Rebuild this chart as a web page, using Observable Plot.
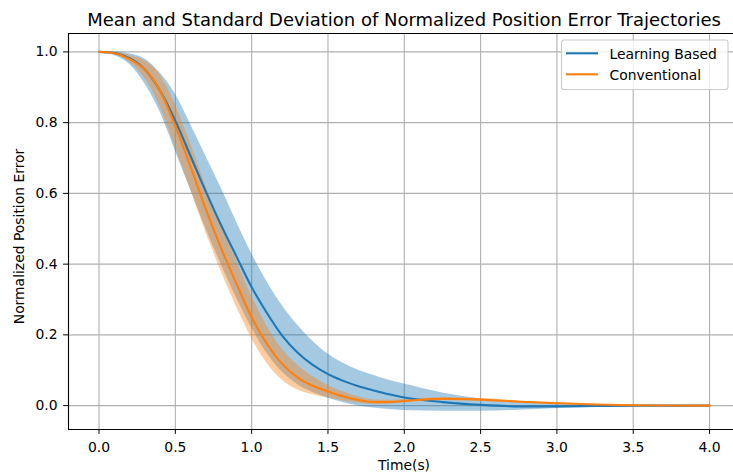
<!DOCTYPE html>
<html>
<head>
<meta charset="utf-8">
<script src="https://cdn.jsdelivr.net/npm/d3@7"></script>
<script src="https://cdn.jsdelivr.net/npm/@observablehq/plot@0.6"></script>
<style>
  html, body { margin: 0; padding: 0; background: white; }
  svg { display: block; }
</style>
</head>
<body>
<div id="chart"></div>
<script>
// ---- data ----
const titleText = "Mean and Standard Deviation of Normalized Position Error Trajectories";
const xLabel = "Time(s)";
const yLabel = "Normalized Position Error";
const seriesNames = ["Learning Based", "Conventional"];
const seriesColors = ["#1f77b4", "#ff7f0e"];

const xTicks = [0, 0.5, 1.0, 1.5, 2.0, 2.5, 3.0, 3.5, 4.0];
const yTicks = [0.0, 0.2, 0.4, 0.6, 0.8, 1.0];

const time = [0, 0.1, 0.2, 0.3, 0.4, 0.5, 0.6, 0.7, 0.8, 0.9, 1.0, 1.1, 1.2, 1.3, 1.4, 1.5, 1.6, 1.7, 1.8, 1.9, 2.0, 2.25, 2.5, 2.75, 3.0, 3.25, 3.5, 3.75, 4.0];

const learningMean = [1.0, 0.997, 0.982, 0.95, 0.89, 0.805, 0.705, 0.605, 0.51, 0.422, 0.335, 0.262, 0.198, 0.15, 0.115, 0.089, 0.07, 0.055, 0.043, 0.032, 0.023, 0.01, 0.002, -0.002, -0.002, -0.001, 0, 0, 0];
const learningLow  = [1.0, 0.99, 0.965, 0.91, 0.83, 0.72, 0.61, 0.50, 0.40, 0.305, 0.22, 0.148, 0.095, 0.06, 0.037, 0.021, 0.009, -0.001, -0.007, -0.011, -0.014, -0.016, -0.016, -0.013, -0.008, -0.004, -0.001, 0, 0];
const learningHigh = [1.0, 1.0, 0.995, 0.98, 0.94, 0.88, 0.795, 0.705, 0.615, 0.52, 0.43, 0.35, 0.283, 0.228, 0.182, 0.146, 0.12, 0.10, 0.085, 0.072, 0.061, 0.036, 0.019, 0.01, 0.005, 0.002, 0.001, 0, 0];

const convMean = [1.0, 0.996, 0.98, 0.95, 0.89, 0.79, 0.675, 0.555, 0.445, 0.345, 0.25, 0.175, 0.118, 0.08, 0.056, 0.04, 0.026, 0.016, 0.01, 0.01, 0.013, 0.019, 0.017, 0.011, 0.0065, 0.003, 0.001, 0.0003, 0];
const convLow  = [1.0, 0.993, 0.97, 0.925, 0.845, 0.73, 0.61, 0.49, 0.38, 0.28, 0.19, 0.12, 0.072, 0.045, 0.031, 0.022, 0.013, 0.007, 0.004, 0.005, 0.009, 0.016, 0.014, 0.009, 0.0045, 0.002, 0.0, 0.0003, 0];
const convHigh = [1.0, 0.999, 0.99, 0.975, 0.935, 0.85, 0.74, 0.62, 0.51, 0.41, 0.31, 0.225, 0.16, 0.115, 0.082, 0.057, 0.039, 0.025, 0.016, 0.015, 0.017, 0.022, 0.02, 0.013, 0.0085, 0.004, 0.002, 0.0003, 0];

const xDomain = [-0.2, 4.157];
const yDomain = [-0.0675, 1.052];

// ---- build table ----
const rows = time.map((t, i) => ({
  t,
  lm: learningMean[i], ll: learningLow[i], lh: learningHigh[i],
  cm: convMean[i], cl: convLow[i], ch: convHigh[i]
}));

const font = "DejaVu Sans, sans-serif";
const curve = "monotone-x";

const svg = Plot.plot({
  width: 733,
  height: 475,
  marginLeft: 68,
  marginRight: 0,
  marginTop: 33,
  marginBottom: 46,
  style: { fontFamily: font, fontSize: "13.9px", background: "white", color: "black" },
  x: { domain: xDomain },
  y: { domain: yDomain },
  marks: [
    Plot.gridX(xTicks, { stroke: "#b0b0b0", strokeOpacity: 1, strokeWidth: 1.1 }),
    Plot.gridY(yTicks, { stroke: "#b0b0b0", strokeOpacity: 1, strokeWidth: 1.1 }),
    Plot.areaY(rows, { x: "t", y1: "ll", y2: "lh", fill: seriesColors[0], fillOpacity: 0.4, curve }),
    Plot.areaY(rows, { x: "t", y1: "cl", y2: "ch", fill: seriesColors[1], fillOpacity: 0.4, curve }),
    Plot.lineY(rows, { x: "t", y: "lm", stroke: seriesColors[0], strokeWidth: 2.1, curve }),
    Plot.lineY(rows, { x: "t", y: "cm", stroke: seriesColors[1], strokeWidth: 2.1, curve }),
    Plot.ruleX([xDomain[0]], { stroke: "black", strokeWidth: 1.1 }),
    Plot.ruleY([yDomain[0], yDomain[1]], { stroke: "black", strokeWidth: 1.1 }),
    Plot.axisX(xTicks, { tickFormat: d3.format(".1f"), tickSize: 4.9, tickPadding: 8, label: null, fontSize: 13.9 }),
    Plot.axisY(yTicks, { tickFormat: d3.format(".1f"), tickSize: 4.9, tickPadding: 6, label: null, fontSize: 13.9 }),
    Plot.text([titleText], { frameAnchor: "top", dx: 3, dy: -8, lineAnchor: "bottom", textAnchor: "middle", fontSize: 18 }),
    Plot.text([xLabel], { frameAnchor: "bottom", dx: 3, dy: 40, lineAnchor: "bottom", textAnchor: "middle", fontSize: 13.9 }),
    Plot.text([yLabel], { frameAnchor: "left", dx: -49, dy: 5, rotate: -90, lineAnchor: "middle", textAnchor: "middle", fontSize: 13.9 })
  ]
});

document.getElementById("chart").appendChild(svg);

// ---- legend (upper right, matplotlib style) ----
const lg = d3.select(svg).append("g")
  .attr("font-family", font).attr("font-size", "13.9px").attr("text-anchor", "start");
lg.append("rect")
  .attr("x", 561.5).attr("y", 40).attr("width", 166.5).attr("height", 49.5)
  .attr("rx", 2.8).attr("fill", "white").attr("fill-opacity", 0.8)
  .attr("stroke", "#cccccc").attr("stroke-width", 1.1);
seriesNames.forEach((name, i) => {
  const yy = 53.3 + i * 21;
  lg.append("line").attr("x1", 566).attr("x2", 598).attr("y1", yy).attr("y2", yy)
    .attr("stroke", seriesColors[i]).attr("stroke-width", 2.1);
  lg.append("text").attr("x", 609.5).attr("y", yy + 5.2)
    .attr("text-anchor", "start").attr("fill", "black").text(name);
});
</script>
</body>
</html>
